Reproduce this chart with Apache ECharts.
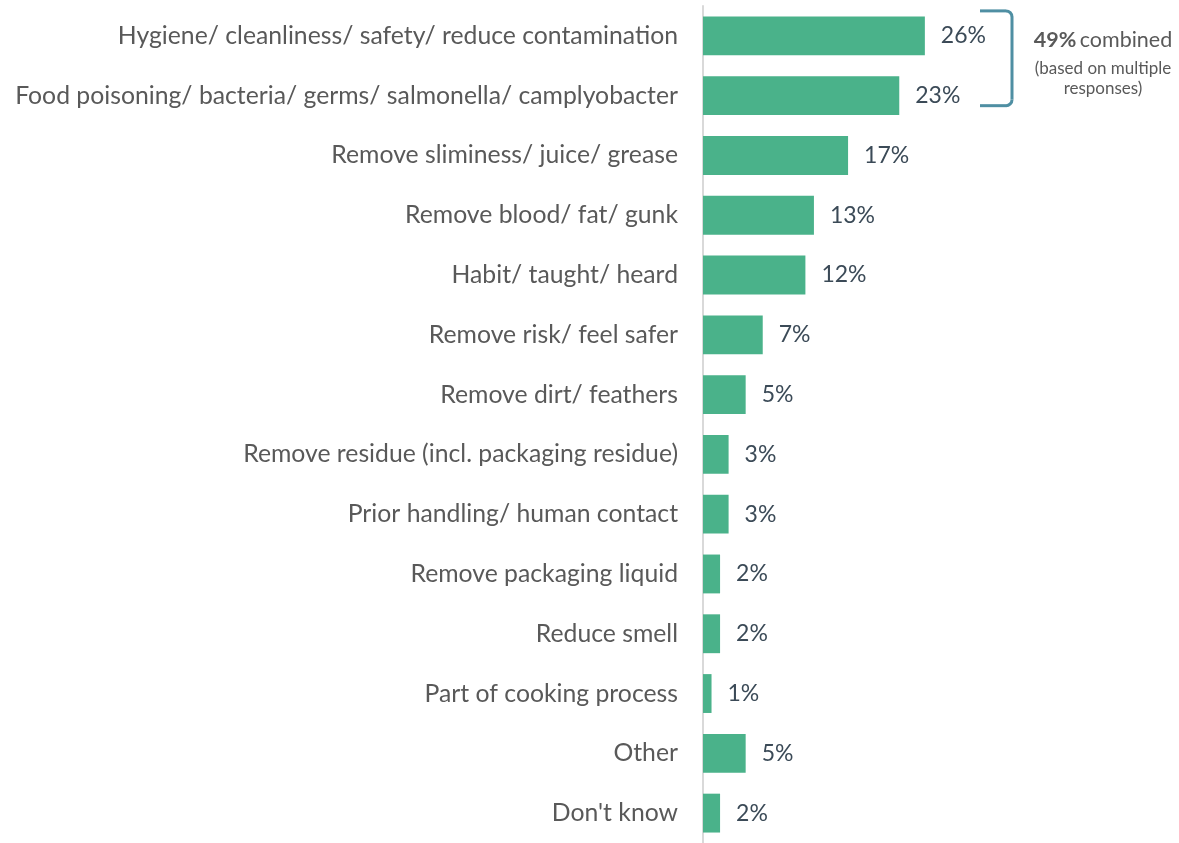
<!DOCTYPE html>
<html>
<head>
<meta charset="utf-8">
<script src="https://cdn.jsdelivr.net/npm/echarts@6/dist/echarts.min.js"></script>
<style>
  html, body { margin: 0; padding: 0; background: #ffffff; }
  #chart { width: 1179px; height: 843px; }
</style>
</head>
<body>
<div id="chart"></div>
<script>
// Reasons given for washing raw chicken (% of respondents)
const categories = [
  "Hygiene/ cleanliness/ safety/ reduce contamination",
  "Food poisoning/ bacteria/ germs/ salmonella/ camplyobacter",
  "Remove sliminess/ juice/ grease",
  "Remove blood/ fat/ gunk",
  "Habit/ taught/ heard",
  "Remove risk/ feel safer",
  "Remove dirt/ feathers",
  "Remove residue (incl. packaging residue)",
  "Prior handling/ human contact",
  "Remove packaging liquid",
  "Reduce smell",
  "Part of cooking process",
  "Other",
  "Don't know"
];
const values = [26, 23, 17, 13, 12, 7, 5, 3, 3, 2, 2, 1, 5, 2];
const combinedValue = 49;
const combinedNote = ["(based on multiple", "responses)"];

const FONT = "Lato, 'Open Sans', sans-serif";
const chart = echarts.init(document.getElementById('chart'), null, { renderer: 'canvas' });

chart.setOption({
  animation: false,
  backgroundColor: '#ffffff',
  grid: { left: 703, top: 6, width: 256, height: 844, containLabel: false },
  xAxis: {
    type: 'value', min: 0, max: 30,
    show: false
  },
  yAxis: {
    type: 'category',
    data: categories,
    inverse: true,
    axisLine: { show: true, lineStyle: { color: '#d9d9d9', width: 2 } },
    axisTick: { show: false },
    axisLabel: {
      margin: 25,
      color: '#595959',
      fontFamily: FONT,
      fontSize: 24.75,
      padding: [5, 0, 0, 0]
    }
  },
  series: [{
    type: 'bar',
    data: values,
    barCategoryGap: '35%',
    itemStyle: { color: '#4ab28a' },
    label: {
      show: true,
      position: 'right',
      distance: 16,
      color: '#3b4a57',
      fontFamily: FONT,
      fontSize: 23,
      padding: [4, 0, 0, 0],
      formatter: p => p.value + '%'
    }
  }]
});

// Bracket grouping the first two reasons, with the combined share beside it
const firstY = chart.convertToPixel({ yAxisIndex: 0 }, 0);
const secondY = chart.convertToPixel({ yAxisIndex: 0 }, 1);
const bracketTop = firstY - 25, bracketBottom = secondY + 10;
const bx = 1012, r = 6;
const bracketStyle = { stroke: '#4f8fa3', lineWidth: 3, fill: null };
chart.setOption({
  graphic: [
    {
      type: 'polyline',
      shape: { points: [[980, bracketTop], [bx - r, bracketTop]] },
      style: bracketStyle
    },
    {
      type: 'arc',
      shape: { cx: bx - r, cy: bracketTop + r, r: r, startAngle: -Math.PI / 2, endAngle: 0 },
      style: bracketStyle
    },
    {
      type: 'polyline',
      shape: { points: [[bx, bracketTop + r], [bx, bracketBottom - r]] },
      style: bracketStyle
    },
    {
      type: 'arc',
      shape: { cx: bx - r, cy: bracketBottom - r, r: r, startAngle: 0, endAngle: Math.PI / 2 },
      style: bracketStyle
    },
    {
      type: 'polyline',
      shape: { points: [[bx - r, bracketBottom], [980, bracketBottom]] },
      style: bracketStyle
    },
    {
      type: 'text',
      x: 1103, y: firstY + 4,
      style: {
        text: '{b|' + combinedValue + '%} {n|combined}',
        align: 'center', verticalAlign: 'middle',
        rich: {
          b: { fontFamily: FONT, fontSize: 21.5, fontWeight: 'bold', fill: '#595959' },
          n: { fontFamily: FONT, fontSize: 21.5, fill: '#595959' }
        }
      }
    },
    {
      type: 'text',
      x: 1103, y: firstY + 23,
      style: {
        text: combinedNote.join('\n'),
        fontFamily: FONT, fontSize: 17, lineHeight: 20,
        fill: '#595959', align: 'center'
      }
    }
  ]
});
</script>
</body>
</html>
